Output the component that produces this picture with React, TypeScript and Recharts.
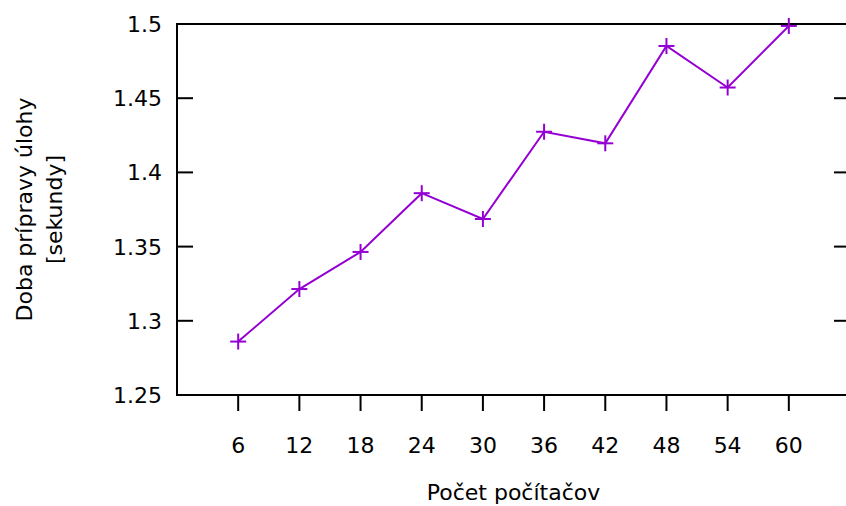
import React from 'react';
import { LineChart, Line, XAxis, YAxis, ReferenceArea } from 'recharts';

// Počet počítačov vs. doba prípravy úlohy
const computers = [6, 12, 18, 24, 30, 36, 42, 48, 54, 60];
const prepTime = [1.286, 1.3214, 1.3464, 1.386, 1.3686, 1.4274, 1.4196, 1.4852, 1.4572, 1.4987];
const xTicks = [6, 12, 18, 24, 30, 36, 42, 48, 54, 60];
const yTicks = [1.25, 1.3, 1.35, 1.4, 1.45, 1.5];

const data = computers.map((c, i) => ({ c, t: prepTime[i] }));

const FONT = '"DejaVu Sans", sans-serif';
const FONT_SIZE = 22;
const LINE_COLOR = '#9400d3';
const PLOT_LEFT = 177;
const PLOT_RIGHT = 850;
const TICK_LEN = 16;

// y tick: label on the left, short inward marks on both borders
const YTick = (props: any) => {
  const { x, y, payload } = props;
  return (
    <g>
      <text x={x} y={y} dy="0.36em" textAnchor="end" fontFamily={FONT} fontSize={FONT_SIZE} fill="#000">
        {String(payload.value)}
      </text>
      <line x1={PLOT_LEFT} x2={PLOT_LEFT + TICK_LEN} y1={y} y2={y} stroke="#000" strokeWidth={2} />
      <line x1={PLOT_RIGHT - TICK_LEN} x2={PLOT_RIGHT} y1={y} y2={y} stroke="#000" strokeWidth={2} />
    </g>
  );
};

const PlusDot = (props: any) => {
  const { cx, cy, index } = props;
  if (cx == null || cy == null) return null;
  return (
    <g key={`p-${index}`}>
      <line x1={cx - 8} x2={cx + 8} y1={cy} y2={cy} stroke={LINE_COLOR} strokeWidth={2} />
      <line x1={cx} x2={cx} y1={cy - 8} y2={cy + 8} stroke={LINE_COLOR} strokeWidth={2} />
    </g>
  );
};

const XLabel = (props: any) => {
  const { viewBox } = props;
  return (
    <text
      x={viewBox.x + viewBox.width / 2}
      y={500}
      textAnchor="middle"
      fontFamily={FONT}
      fontSize={FONT_SIZE}
      fill="#000"
    >
      Počet počítačov
    </text>
  );
};

const YLabel = (props: any) => {
  const { viewBox } = props;
  const cy = viewBox.y + viewBox.height / 2;
  return (
    <g fontFamily={FONT} fontSize={FONT_SIZE} fill="#000" textAnchor="middle">
      <text x={31.5} y={cy} transform={`rotate(-90, 31.5, ${cy})`}>
        Doba prípravy úlohy
      </text>
      <text x={61.5} y={cy} transform={`rotate(-90, 61.5, ${cy})`}>
        [sekundy]
      </text>
    </g>
  );
};

export default function App() {
  return (
    <div style={{ position: 'absolute', left: 0, top: 0, width: 846, height: 506, overflow: 'hidden', background: '#fff' }}>
      <LineChart width={851} height={506} data={data} margin={{ top: 24, right: 1, bottom: 0, left: 0 }}>
        <XAxis
          dataKey="c"
          type="number"
          domain={[0, 66]}
          ticks={xTicks}
          axisLine={false}
          tickSize={TICK_LEN}
          tickMargin={26}
          tickLine={{ stroke: '#000', strokeWidth: 2 }}
          tick={{ fontFamily: FONT, fontSize: FONT_SIZE, fill: '#000' }}
          height={111}
          label={<XLabel />}
        />
        <YAxis
          type="number"
          domain={[1.25, 1.5]}
          ticks={yTicks}
          axisLine={false}
          tickLine={false}
          tickSize={0}
          tickMargin={15}
          tick={<YTick />}
          width={177}
          label={<YLabel />}
        />
        <ReferenceArea
          x1={0}
          x2={66}
          y1={1.25}
          y2={1.5}
          fill="none"
          fillOpacity={0}
          stroke="#000"
          strokeWidth={2}
        />
        <Line
          dataKey="t"
          type="linear"
          stroke={LINE_COLOR}
          strokeWidth={2}
          dot={<PlusDot />}
          activeDot={false}
          isAnimationActive={false}
        />
      </LineChart>
    </div>
  );
}
